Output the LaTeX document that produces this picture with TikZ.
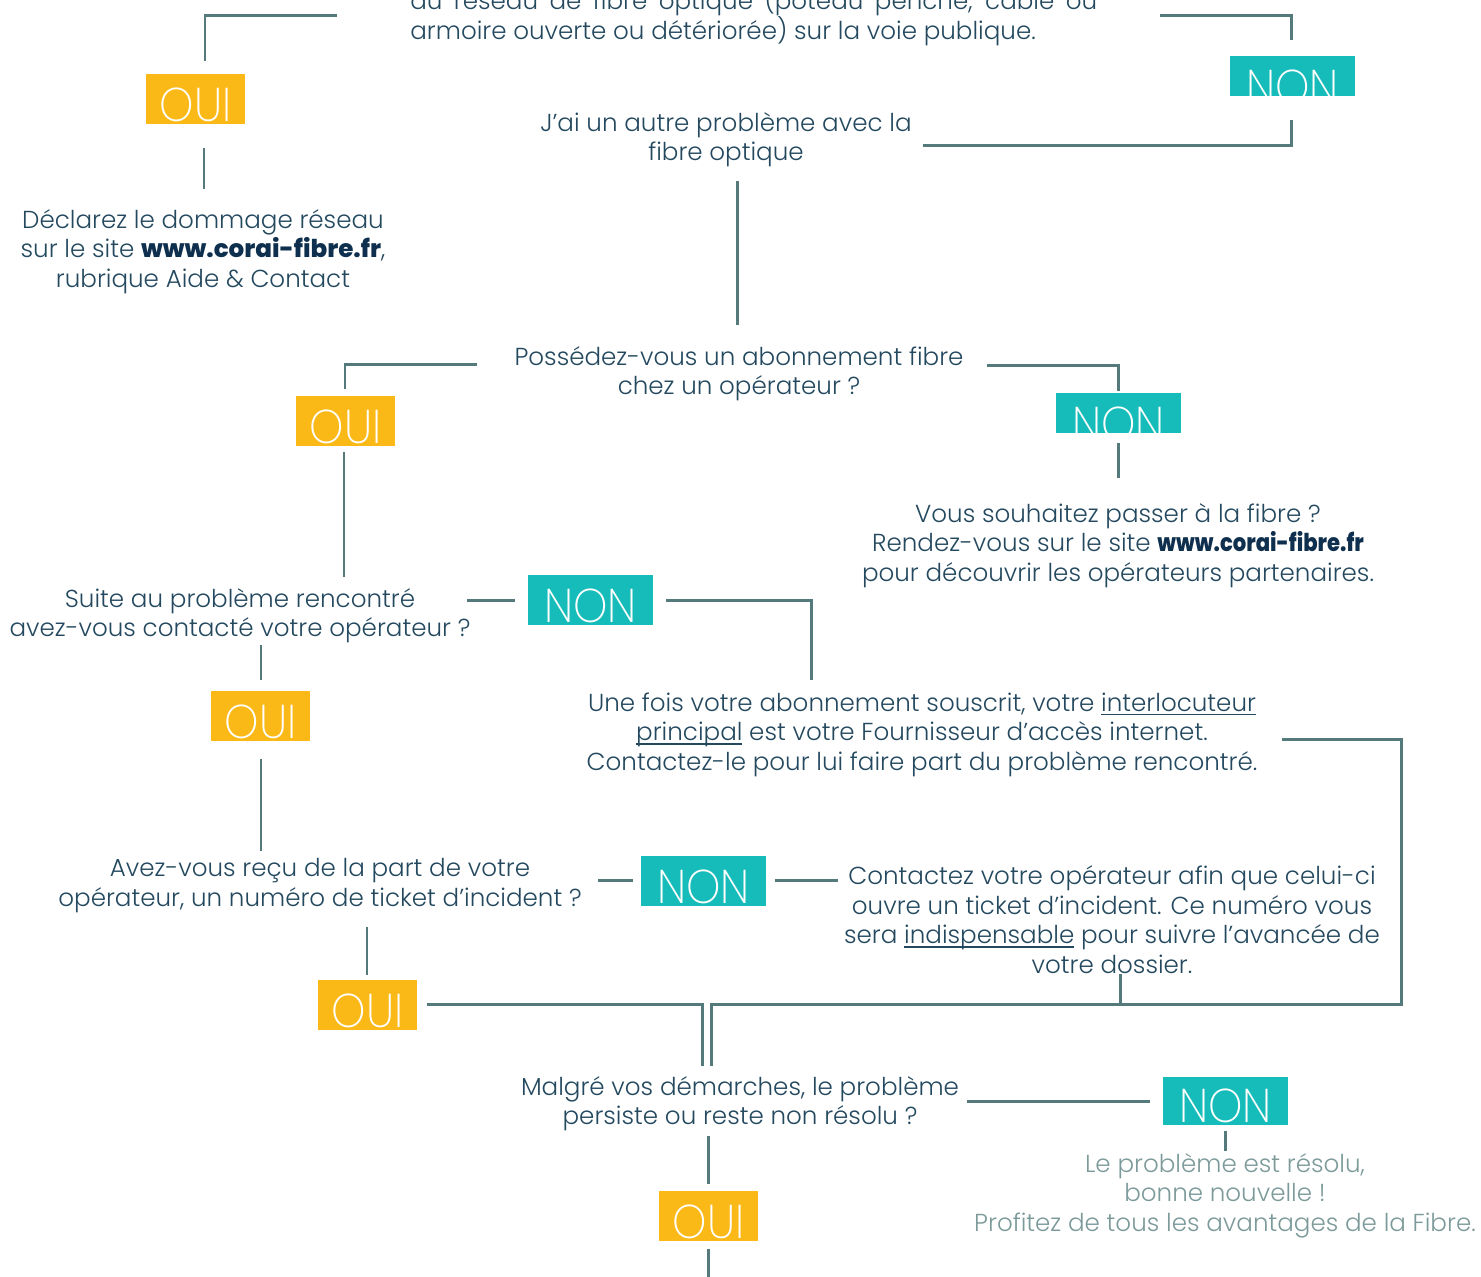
\documentclass[tikz,border=0pt]{standalone}
\usepackage{fontspec}
\usepackage{graphicx}
\IfFontExistsTF{Poppins Light}
  {\IfFontExistsTF{Poppins ExtraBold}
     {\setmainfont{Poppins Light}[BoldFont={Poppins ExtraBold}]}
     {\setmainfont{Poppins Light}[BoldFont={Poppins Bold}]}}
  {\setmainfont{Poppins}}
\IfFontExistsTF{Poppins ExtraLight}
  {\newfontfamily\boxfont{Poppins ExtraLight}}
  {\IfFontExistsTF{Poppins Thin}{\newfontfamily\boxfont{Poppins Thin}}{\newfontfamily\boxfont{Poppins}}}
\definecolor{linec}{HTML}{557A7B}
\definecolor{txtc}{HTML}{24495F}
\definecolor{urlc}{HTML}{0E2F4D}
\definecolor{softc}{HTML}{7D9A9A}
\definecolor{ouic}{HTML}{FBB917}
\definecolor{nonc}{HTML}{16BCB9}
\newcommand{\siteurl}{\textcolor{urlc}{\textbf{www.corai-fibre.fr}}}
\newcommand{\boxword}[1]{\scalebox{0.92}[1]{#1}}
\newcommand{\myul}[1]{\setbox0\hbox{#1}\rlap{\rule[-2.2pt]{\wd0}{0.6pt}}\box0\relax}
\tikzset{
  conn/.style={draw=linec, line width=1.7pt},
  txt/.style={text=txtc, align=center, font=\fontsize{14}{16.8}\selectfont, inner sep=0pt},
  boxbase/.style={inner sep=0pt, text height=0.94cm, text depth=0.06cm, minimum height=1cm, text=white, font=\boxfont\fontsize{27}{27}\selectfont},
  ouibox/.style={boxbase, fill=ouic, minimum width=1.98cm},
  nonbox/.style={boxbase, fill=nonc, minimum width=2.5cm},
}
\begin{document}
\begin{tikzpicture}[x=0.02cm, y=-0.02cm]
\useasboundingbox (0,0) rectangle (1481,1276);

% ---------- texts ----------
\node[txt, align=left, anchor=south west] (t0) at (410,46)
  {\makebox[13.74cm][s]{au réseau de fibre optique (poteau penché, câble ou}\\
   armoire ouverte ou détériorée) sur la voie publique.};
\node[txt] (t1) at (203,251.5) {Déclarez le dommage réseau\\ sur le site \siteurl,\\ rubrique Aide \& Contact};
\node[txt] (t2) at (726,139.5) {J’ai un autre problème avec la\\ fibre optique};
\node[txt] (t3) at (739,373.5) {Possédez-vous un abonnement fibre\\ chez un opérateur ?};
\node[txt] (t4) at (1118,545.5) {Vous souhaitez passer à la fibre ?\\ Rendez-vous sur le site \scalebox{0.86}[1]{\siteurl}\\ pour découvrir les opérateurs partenaires.};
\node[txt] (t5) at (240,615.5) {Suite au problème rencontré\\ avez-vous contacté votre opérateur ?};
\node[txt] (t6) at (922,734.5) {Une fois votre abonnement souscrit, votre \myul{interlocuteur}\\ \myul{principal} est votre Fournisseur d’accès internet.\\ Contactez-le pour lui faire part du problème rencontré.};
\node[txt] (t7) at (320,885.5) {Avez-vous reçu de la part de votre\\ opérateur, un numéro de ticket d’incident ?};
\node[txt] (t8) at (1112,919.5) {Contactez votre opérateur afin que celui-ci\\ ouvre un ticket d’incident. Ce numéro vous\\ sera \myul{indispensable} pour suivre l’avancée de\\ votre dossier.};
\node[txt] (t9) at (740,1103.5) {Malgré vos démarches, le problème\\ persiste ou reste non résolu ?};
\node[txt, text=softc] (t10) at (1225,1195.5) {Le problème est résolu,\\ bonne nouvelle !\\ Profitez de tous les avantages de la Fibre.};

% ---------- OUI / NON boxes ----------
\node[ouibox] (o1) at (195.5,99) {\boxword{OUI}};
\begin{scope}
  \clip (1230,56) rectangle (1355,95);
  \node[nonbox] (n1) at (1292.5,81) {\boxword{NON}};
\end{scope}
\node[ouibox] (o2) at (345.5,421) {\boxword{OUI}};
\begin{scope}
  \clip (1056,393) rectangle (1181,432);
  \node[nonbox] (n2) at (1118.5,418) {\boxword{NON}};
\end{scope}
\node[nonbox] (n3) at (590.5,600) {\boxword{NON}};
\node[ouibox] (o3) at (260.5,716) {\boxword{OUI}};
\node[nonbox] (n4) at (703.5,881) {\boxword{NON}};
\node[ouibox] (o4) at (367.5,1005) {\boxword{OUI}};
\node[nonbox, minimum height=0.96cm, text height=0.90cm] (n5) at (1225.5,1101) {\boxword{NON}};
\node[ouibox] (o5) at (708.5,1216) {\boxword{OUI}};

% ---------- free ends ----------
\coordinate (c1) at (337,15);
\coordinate (c3) at (1160,15);
\coordinate (c4) at (923,145);
\coordinate (c6) at (477,364);
\coordinate (c8) at (987,365);
\coordinate (c11) at (811,680);
\coordinate (c12) at (1282,739);
\coordinate (c12b) at (1401,1004);
\coordinate (c19) at (702,1066);
\coordinate (c12e) at (711,1066);

% ---------- connectors ----------
\draw[conn] (o1.north) ++(9.5,-13) |- (c1);
\draw[conn] (o1.south) ++(8.5,24) -- ++(0,41);
\draw[conn] (n1.north) ++(-1,-16) |- (c3);
\draw[conn] (n1.south) ++(-1,14) |- (c4);
\draw[conn] (t2.south) ++(11,14) -- (737,325);
\draw[conn] (o2.north) ++(-0.5,-7) |- (c6);
\draw[conn] (o2.south) ++(-1.5,6) -- ++(0,125);
\draw[conn] (n2.north) ++(-0.5,-2) |- (c8);
\draw[conn] (n2.south) ++(-0.5,0) -- ++(0,35);
\draw[conn] (n3.west) ++(-13,0) -- ++(-48,0);
\draw[conn] (n3.east) ++(13,0) -| (c11);
\draw[conn] (c12) -| (c12b) -| (c12e);
\draw[conn] (o3.north) ++(0.5,-11) -- ++(0,-35);
\draw[conn] (o3.south) ++(0.5,18) -- ++(0,92);
\draw[conn] (n4.west) ++(-8,-1) -- ++(-35,0);
\draw[conn] (n4.east) ++(9,-1) -- ++(63,0);
\draw[conn] (t8.south) ++(8,0) -- (1120,1004);
\draw[conn] (o4.north) ++(-0.5,-5) -- ++(0,-48);
\draw[conn] (o4.east) ++(10,-1) -| (c19);
\draw[conn] (n5.west) ++(-13,0) -- (967,1101);
\draw[conn] (n5.south) ++(-0.5,6) -- ++(0,20);
\draw[conn] (o5.north) ++(-0.5,-7) -- ++(0,-48);
\draw[conn] (o5.south) ++(-0.5,8) -- ++(0,30);
\end{tikzpicture}
\end{document}
